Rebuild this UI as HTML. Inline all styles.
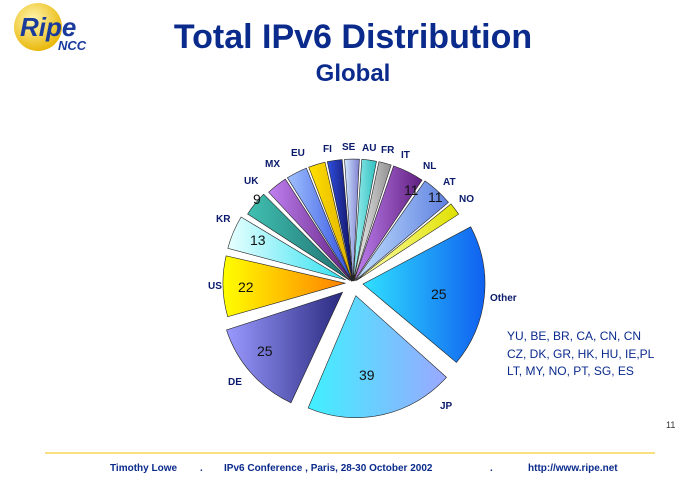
<html><body style="margin:0;width:700px;height:485px;background:#fff;overflow:hidden;font-family:'Liberation Sans',sans-serif">
<svg width="700" height="485" xmlns="http://www.w3.org/2000/svg" font-family="Liberation Sans, sans-serif">
<defs>
<radialGradient id="lg" cx="0.4" cy="0.35" r="0.7"><stop offset="0" stop-color="#fff6b0"/><stop offset="1" stop-color="#e8b400"/></radialGradient>
</defs>
<circle cx="38" cy="27" r="24" fill="url(#lg)"/>
<text x="20" y="36" font-size="26" font-weight="bold" font-style="italic" fill="#1b3b9c">Ripe</text>
<text x="58" y="50" font-size="13" font-weight="bold" font-style="italic" fill="#1b3b9c">NCC</text>
<text x="353" y="48" text-anchor="middle" font-size="34" font-weight="bold" fill="#0a2a8c">Total IPv6 Distribution</text>
<text x="353" y="81" text-anchor="middle" font-size="24" font-weight="bold" fill="#0a2a8c">Global</text>
<g id="pie" stroke="#222" stroke-width="0.6"></g>
<g font-size="10" font-weight="bold" fill="#0a1a6c">
<text x="208" y="289">US</text><text x="216" y="222">KR</text><text x="244" y="184">UK</text>
<text x="265" y="167">MX</text><text x="291" y="156">EU</text><text x="323" y="152">FI</text>
<text x="342" y="150">SE</text><text x="362" y="151">AU</text><text x="381" y="153">FR</text>
<text x="401" y="158">IT</text><text x="423" y="169">NL</text><text x="443" y="185">AT</text>
<text x="459" y="202">NO</text><text x="490" y="301">Other</text><text x="228" y="385">DE</text><text x="440" y="409">JP</text>
</g>
<g font-size="14" fill="#111">
<text x="253" y="204">9</text><text x="250" y="245">13</text><text x="238" y="292">22</text>
<text x="257" y="356">25</text><text x="359" y="380">39</text><text x="431" y="299">25</text>
<text x="404" y="195">11</text><text x="428" y="202">11</text>
</g>
<g font-size="12" fill="#0a2a8c">
<text x="507" y="340">YU, BE, BR, CA, CN, CN</text>
<text x="507" y="358">CZ, DK, GR, HK, HU, IE,PL</text>
<text x="507" y="375">LT, MY, NO, PT, SG, ES</text>
</g>
<text x="666" y="428" font-size="9" fill="#333">11</text>
<line x1="45" y1="453" x2="655" y2="453" stroke="#f0c000" stroke-width="1"/>
<g font-size="10" font-weight="bold" fill="#0a2a8c">
<text x="110" y="471">Timothy Lowe</text><text x="200" y="471">.</text>
<text x="224" y="471">IPv6 Conference , Paris, 28-30 October 2002</text>
<text x="490" y="471">.</text><text x="528" y="471">http://www.ripe.net</text>
</g>
</svg>
<script>
var cx=353,cy=283,r=122;
var s=[[62,130,"#1060f0","#30e0ff",10],[132,203,"#9aa8ff","#40f0ff",13],[205,252,"#2a2a80","#9a9aff",14],
[254,283,"#ff8000","#ffff00",8],[285,301,"#30e0f0","#e8ffff",8],[303,315,"#207070","#40c0b0",4],
[317,327,"#602080","#c080f0",2],[328,338,"#3050e0","#a0c0ff",2],[339,347,"#e0b000","#ffe000",2],
[348,355,"#101060","#3050e0",2],[356,3,"#8080d0","#d0e8ff",2],[4,11,"#30c0c0","#a0f0f0",2],
[12,18,"#909090","#f0f0f0",2],[19,34,"#602080","#c080f0",2],[35,50,"#6080e0","#c0e0ff",3],[51,57,"#e0e000","#ffffb0",4]];
var g=document.getElementById("pie"),ns="http://www.w3.org/2000/svg",defs=document.querySelector("defs");
s.forEach(function(d,i){var a0=d[0],a1=d[1];if(a1<a0)a1+=360;var m=(a0+a1)/2*Math.PI/180;
var ox=cx+d[4]*Math.sin(m),oy=cy-d[4]*Math.cos(m);
function p(a){a=a*Math.PI/180;return (ox+r*Math.sin(a)).toFixed(1)+","+(oy-r*Math.cos(a)).toFixed(1);}
var gr=document.createElementNS(ns,"linearGradient");gr.setAttribute("id","g"+i);
gr.setAttribute("x1","0");gr.setAttribute("y1","0");gr.setAttribute("x2","1");gr.setAttribute("y2","0");
gr.innerHTML='<stop offset="0" stop-color="'+d[3]+'"/><stop offset="1" stop-color="'+d[2]+'"/>';defs.appendChild(gr);
var e=document.createElementNS(ns,"path");
e.setAttribute("d","M"+ox+","+oy+" L"+p(a0)+" A"+r+","+r+" 0 "+((a1-a0)>180?1:0)+" 1 "+p(a1)+" Z");
e.setAttribute("fill","url(#g"+i+")");g.appendChild(e);});
</script>
</body></html>
